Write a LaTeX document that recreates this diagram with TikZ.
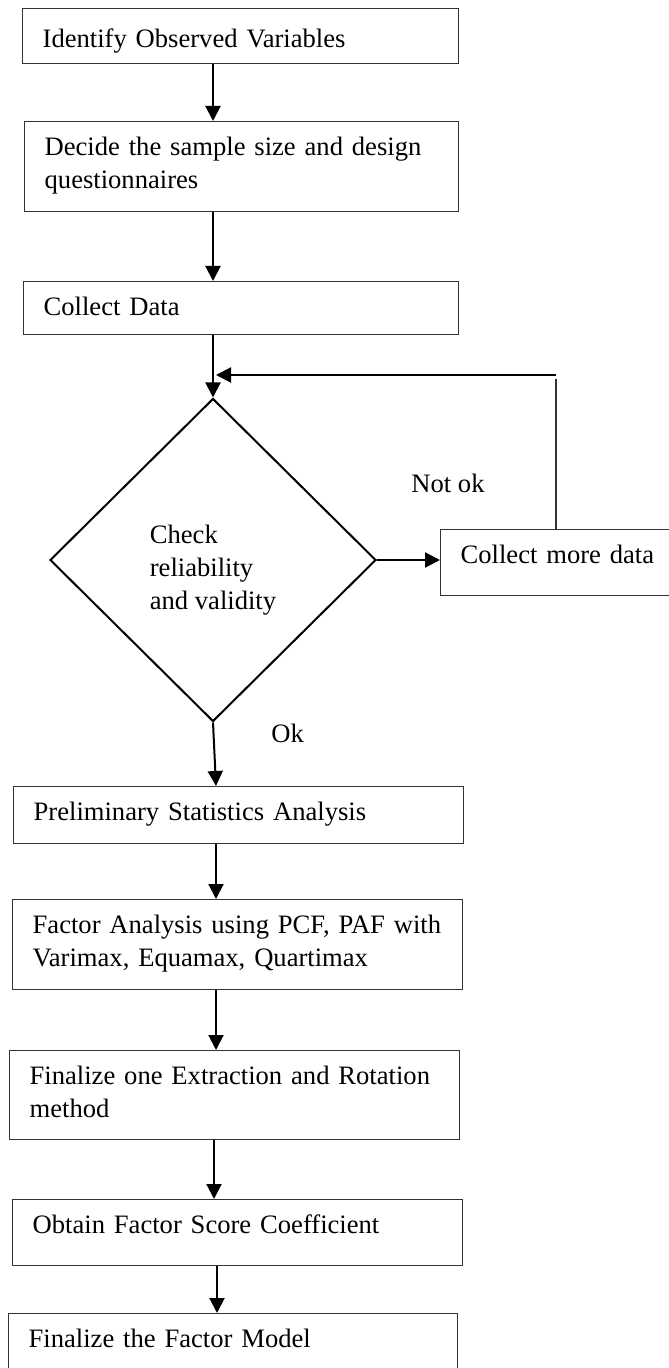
\documentclass[tikz,border=0pt]{standalone}
\usepackage{fontspec}
\setmainfont{Liberation Serif}
\usetikzlibrary{shapes.geometric,arrows.meta,positioning}

\begin{document}
\begin{tikzpicture}[x=0.5pt, y=-0.5pt,
    font=\fontsize{13.3}{16.5}\selectfont,
    stepbox/.style={rectangle, draw=black!80, line width=0.65pt,
          anchor=north west, align=left,
          inner xsep=10pt, inner ysep=0pt,
          text width=#1, text height=17pt},
    decision/.style={diamond, draw, line width=1pt, aspect=1,
          inner sep=0pt, align=left, text height=52pt,
          minimum width=163pt, minimum height=161.5pt},
    flow/.style={-{Triangle[length=7.5pt,width=7.5pt]}, line width=1pt},
    tag/.style={anchor=base west, inner sep=0pt}]
    \useasboundingbox (0,0) rectangle (668,1368);
    % Add the steps
    \node[stepbox=198pt,
          text height=19.5pt,
          text depth=8pt] (ident) at (22,8) {Identify Observed Variables};
    \node[stepbox=197pt,
          text depth=28pt] (decide) at (24,121) {Decide the sample size and design\\questionnaires};
    \node[stepbox=197.5pt,
          text depth=9.5pt] (collect) at (23,281) {Collect Data};
    \node[decision] (check) at (213,560) {Check\\reliability\\and validity};
    \node[stepbox=110pt,
          text depth=16pt] (more) at (440,529) {Collect more data};
    \node[stepbox=205pt,
          text depth=11.5pt] (prelim) at (13,786) {Preliminary Statistics Analysis};
    \node[stepbox=205pt,
          text depth=28pt] (factor) at (12,899) {Factor Analysis using PCF, PAF with\\Varimax, Equamax, Quartimax};
    \node[stepbox=205pt,
          text depth=27.5pt] (final) at (9,1050) {Finalize one Extraction and Rotation\\method};
    \node[stepbox=205pt,
          text depth=16pt] (obtain) at (12,1199) {Obtain Factor Score Coefficient};
    \node[stepbox=204.5pt,
          text depth=16.5pt] (model) at (8,1313) {Finalize the Factor Model};
    % Labels of the decision
    \node[tag] (notok) at (411,493) {Not ok};
    \node[tag] (ok) at (271,742) {Ok};
    % Connect the steps with arrows
    \draw[flow] (ident.south -| check.north) -- (decide.north -| check.north);
    \draw[flow] (decide.south -| check.north) -- (collect.north -| check.north);
    \draw[flow] (collect.south -| check.north) -- (check.north);
    \draw[flow] (check.east) -- (check.east -| more.west);
    \draw[flow] (check.south) -- ([xshift=1.5pt]prelim.north -| check.south);
    \draw[flow] ([xshift=1.5pt]prelim.south -| check.south) -- ([xshift=1.5pt]factor.north -| check.south);
    \draw[flow] ([xshift=1.5pt]factor.south -| check.south) -- ([xshift=1.5pt]final.north -| check.south);
    \draw[flow] ([xshift=0.5pt]final.south -| check.south) -- ([xshift=0.5pt]obtain.north -| check.south);
    \draw[flow] ([xshift=2pt]obtain.south -| check.south) -- ([xshift=2pt]model.north -| check.south);
    % Loop back for more data
    \coordinate (turn) at (556,375);
    \coordinate (join) at (216,375);
    \draw[draw=black!80, line width=0.65pt] (turn |- more.north) -- ([yshift=-2pt]turn);
    \draw[flow] (turn) -- (join);
\end{tikzpicture}
\end{document}
